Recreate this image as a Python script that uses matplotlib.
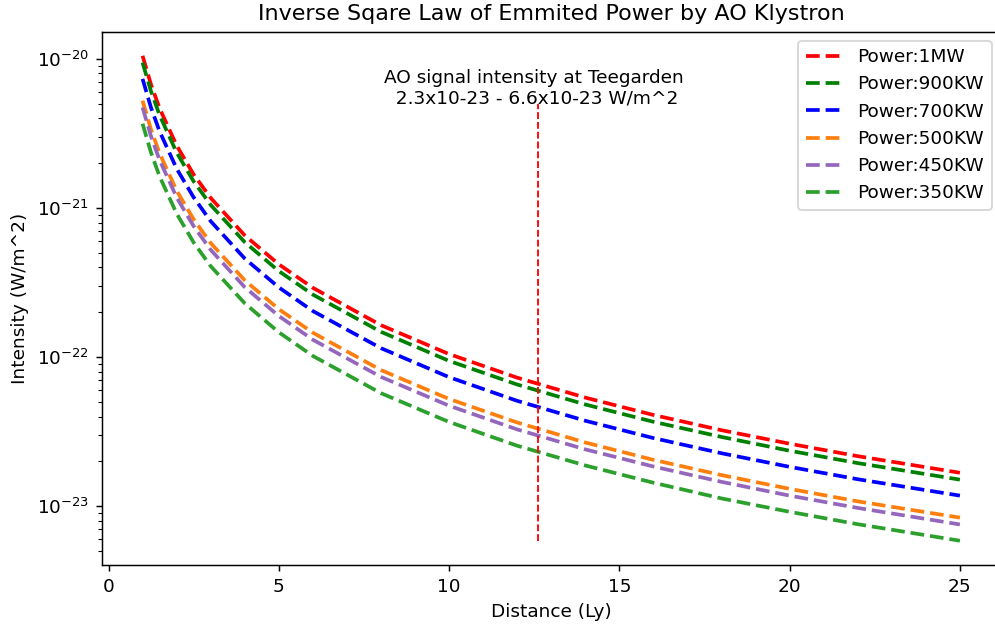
import matplotlib
matplotlib.use('Agg')
from matplotlib import pyplot as plt

# distance in light years and intensity in W/m^2
distance = [1, 1.25, 1.5, 2, 2.5, 3, 4, 5, 6, 8, 10, 12, 14, 16, 18, 20, 22, 25]

p_1mw = [1.05e-20, 6.72e-21, 4.67e-21, 2.63e-21, 1.68e-21, 1.17e-21, 6.56e-22, 4.20e-22, 2.92e-22,
	1.64e-22, 1.05e-22, 7.29e-23, 5.36e-23, 4.10e-23, 3.24e-23, 2.63e-23, 2.17e-23, 1.68e-23]
p_900kw = [9.45e-21, 6.05e-21, 4.20e-21, 2.36e-21, 1.51e-21, 1.05e-21, 5.91e-22, 3.78e-22, 2.63e-22,
	1.48e-22, 9.45e-23, 6.56e-23, 4.82e-23, 3.69e-23, 2.92e-23, 2.36e-23, 1.95e-23, 1.51e-23]
p_700kw = [7.35e-21, 4.70e-21, 3.27e-21, 1.84e-21, 1.18e-21, 8.17e-22, 4.59e-22, 2.94e-22, 2.04e-22,
	1.15e-22, 7.35e-23, 5.10e-23, 3.75e-23, 2.87e-23, 2.27e-23, 1.84e-23, 1.52e-23, 1.18e-23]
p_500kw = [5.25e-21, 3.36e-21, 2.33e-21, 1.31e-21, 8.40e-22, 5.83e-22, 3.28e-22, 2.10e-22, 1.46e-22,
	8.20e-23, 5.25e-23, 3.65e-23, 2.68e-23, 2.05e-23, 1.62e-23, 1.31e-23, 1.08e-23, 8.40e-24]
p_450kw = [4.73e-21, 3.02e-21, 2.10e-21, 1.18e-21, 7.56e-22, 5.25e-22, 2.95e-22, 1.89e-22, 1.31e-22,
	7.38e-23, 4.73e-23, 3.28e-23, 2.41e-23, 1.85e-23, 1.46e-23, 1.18e-23, 9.76e-24, 7.56e-24]
p_350kw = [3.68e-21, 2.35e-21, 1.63e-21, 9.19e-22, 5.88e-22, 4.08e-22, 2.30e-22, 1.47e-22, 1.02e-22,
	5.74e-23, 3.68e-23, 2.55e-23, 1.88e-23, 1.44e-23, 1.13e-23, 9.19e-24, 7.59e-24, 5.88e-24]

labels = ['Power:1MW', 'Power:900KW', 'Power:700KW', 'Power:500KW', 'Power:450KW', 'Power:350KW']
colors = ['r', 'g', 'b', 'C1', 'C4', 'C2']

teegarden = 12.6
line_lo, line_hi = 5.9e-24, 5e-21

dpi = 133.33
fig = plt.figure(figsize=(995 / dpi, 627 / dpi), dpi=dpi)
ax = fig.add_axes([0.1022, 0.0989, 0.9036, 0.8508])

series = [p_1mw, p_900kw, p_700kw, p_500kw, p_450kw, p_350kw]
for vals, lab, c in zip(series, labels, colors):
	ax.plot(distance, vals, '--', color=c, lw=2, label=lab)

ax.vlines(teegarden, line_lo, line_hi, colors='r', linestyles='dashed', lw=1)
ax.text(8.1, line_hi, 'AO signal intensity at Teegarden\n  2.3x10-23 - 6.6x10-23 W/m^2')

ax.set_yscale('log')
ax.set_title('Inverse Sqare Law of Emmited Power by AO Klystron')
ax.set_xlabel('Distance (Ly)')
ax.set_ylabel('Intensity (W/m^2)')
ax.legend(loc='upper right')

fig.savefig('out.png', dpi=dpi)
